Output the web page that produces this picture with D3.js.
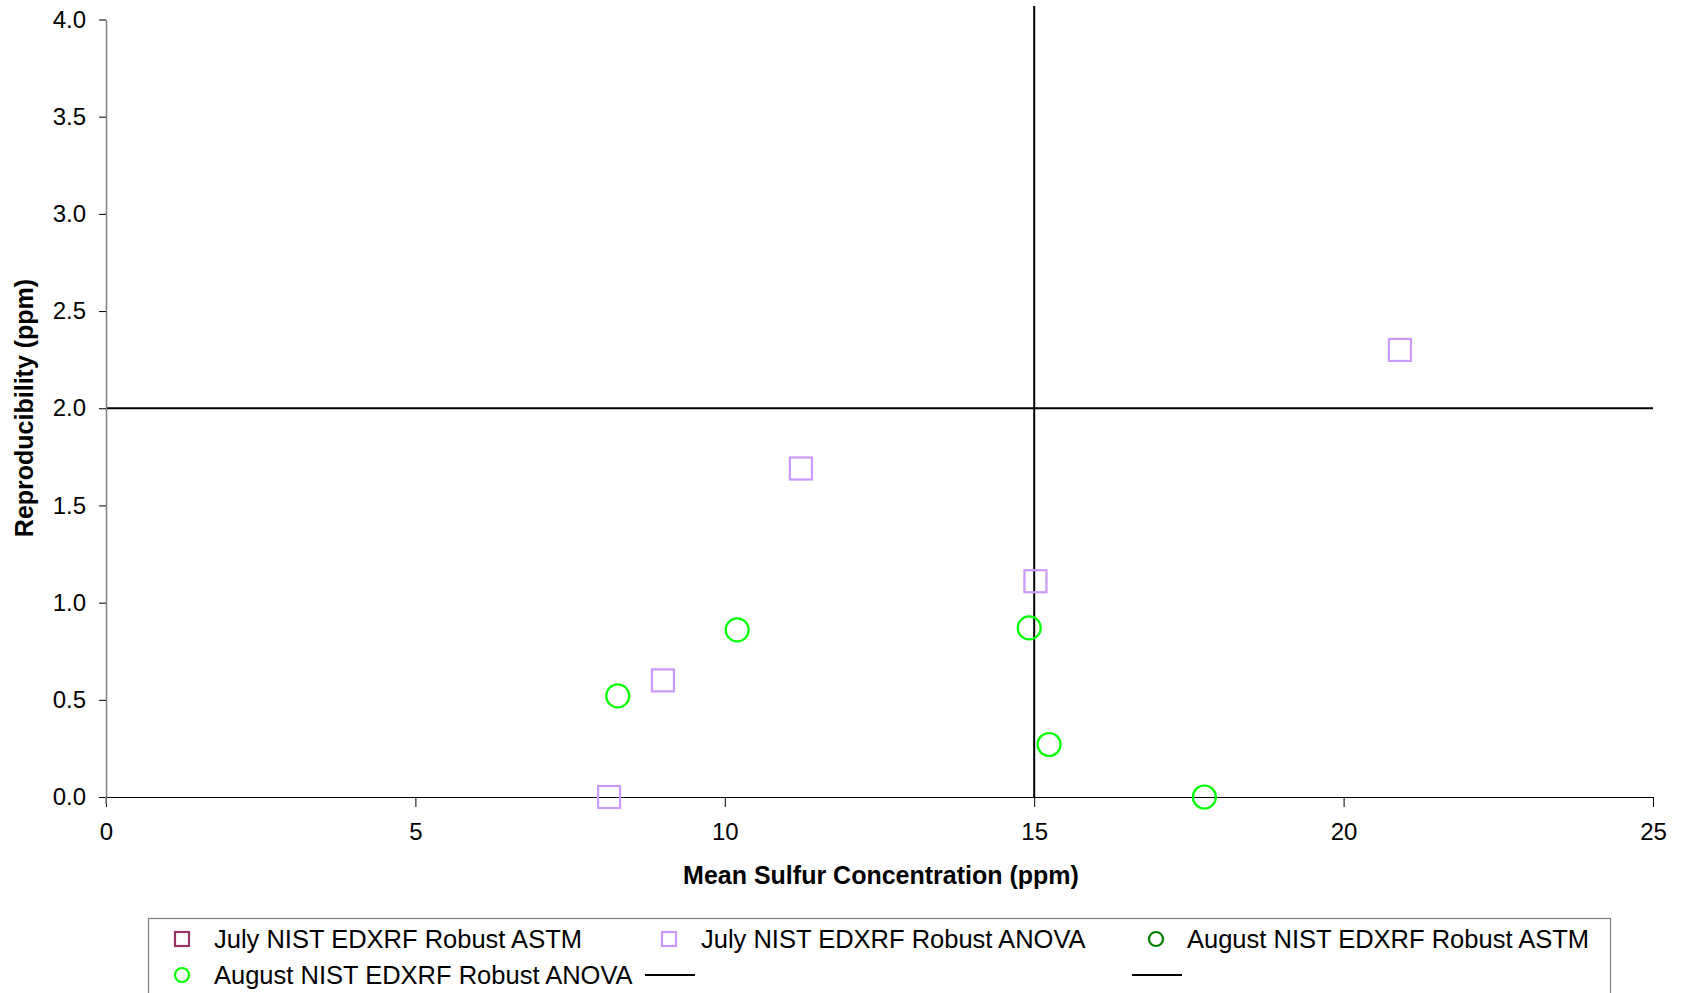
<!DOCTYPE html>
<html>
<head>
<meta charset="utf-8">
<script src="https://cdn.jsdelivr.net/npm/d3@7"></script>
<style>
  html, body { margin: 0; padding: 0; background: #fff; }
  svg { display: block; font-family: "Liberation Sans", Arial, sans-serif; }
</style>
</head>
<body>
<svg id="chart" width="1682" height="993"></svg>
<script>
// ---- data ----
const xTicks = [0, 5, 10, 15, 20, 25];
const yTicks = [0.0, 0.5, 1.0, 1.5, 2.0, 2.5, 3.0, 3.5, 4.0];

const julyAstmX = [];
const julyAstmY = [];
const julyAnovaX = [8.13, 9.0, 11.23, 15.02, 20.91];
const julyAnovaY = [0.0, 0.6, 1.69, 1.11, 2.30];
const augAstmX = [];
const augAstmY = [];
const augAnovaX = [8.27, 10.2, 14.92, 15.24, 17.75];
const augAnovaY = [0.52, 0.86, 0.87, 0.27, 0.0];

const hLineX = [0, 25];
const hLineY = [2, 2];
const vLineX = [15, 15];
const vLineY = [0, 4.07];

const legendLabels = [
  "July NIST EDXRF Robust ASTM",
  "July NIST EDXRF Robust ANOVA",
  "August NIST EDXRF Robust ASTM",
  "August NIST EDXRF Robust ANOVA",
  "",
  ""
];

// ---- chart ----
const svg = d3.select("#chart");
const x = d3.scaleLinear().domain([0, 25]).range([106, 1653]);
const y = d3.scaleLinear().domain([0, 4]).range([797, 19.5]);
const FONT = 24;

// reference lines
const line = d3.line().x(d => x(d[0])).y(d => y(d[1]));
svg.append("path")
  .datum(d3.zip(hLineX, hLineY))
  .attr("d", line).attr("fill", "none").attr("stroke", "#000").attr("stroke-width", 2);
svg.append("path")
  .datum(d3.zip(vLineX, vLineY))
  .attr("d", line).attr("fill", "none").attr("stroke", "#000").attr("stroke-width", 2);

// x axis
const gx = svg.append("g").attr("transform", `translate(0,${y(0)})`)
  .call(d3.axisBottom(x).tickValues(xTicks).tickFormat(d3.format("d")).tickSize(10).tickPadding(16).tickSizeOuter(0));
gx.select(".domain").attr("stroke", "#000").attr("stroke-width", 1.2);
gx.selectAll(".tick line").attr("stroke", "#000");
gx.selectAll("text").attr("font-size", FONT).attr("font-family", "Liberation Sans, Arial, sans-serif").attr("fill", "#000");

// y axis
const gy = svg.append("g").attr("transform", `translate(${x(0)},0)`)
  .call(d3.axisLeft(y).tickValues(yTicks).tickFormat(d3.format(".1f")).tickSize(7).tickPadding(13).tickSizeOuter(0));
gy.select(".domain").attr("stroke", "#808080").attr("stroke-width", 1.5);
gy.selectAll(".tick line").attr("stroke", "#000");
gy.selectAll("text").attr("font-size", FONT).attr("font-family", "Liberation Sans, Arial, sans-serif").attr("fill", "#000");
svg.append("line").attr("x1", x(0)).attr("x2", x(0)).attr("y1", y(0)).attr("y2", y(0) + 7)
  .attr("stroke", "#808080").attr("stroke-width", 1.5);

// axis titles
svg.append("text").attr("x", 881).attr("y", 884).attr("text-anchor", "middle")
  .attr("font-size", 25).attr("font-weight", "bold").text("Mean Sulfur Concentration (ppm)");
svg.append("text").attr("transform", `translate(33,408) rotate(-90)`).attr("text-anchor", "middle")
  .attr("font-size", 25).attr("font-weight", "bold").text("Reproducibility (ppm)");

// markers
const SQ = 22, R = 11.5;
svg.append("g").selectAll("rect").data(d3.zip(julyAnovaX, julyAnovaY)).join("rect")
  .attr("x", d => x(d[0]) - SQ / 2).attr("y", d => y(d[1]) - SQ / 2)
  .attr("width", SQ).attr("height", SQ)
  .attr("fill", "none").attr("stroke", "#cc99ff").attr("stroke-width", 2.2);
svg.append("g").selectAll("circle").data(d3.zip(augAnovaX, augAnovaY)).join("circle")
  .attr("cx", d => x(d[0])).attr("cy", d => y(d[1])).attr("r", R)
  .attr("fill", "none").attr("stroke", "#00ff00").attr("stroke-width", 2.2);

// legend
svg.append("rect").attr("x", 148.5).attr("y", 918.5).attr("width", 1462).attr("height", 100)
  .attr("fill", "#fff").attr("stroke", "#808080").attr("stroke-width", 1.2);

const legItems = [
  {type: "square", color: "#993366", mx: 182, tx: 214, cy: 939},
  {type: "square", color: "#cc99ff", mx: 669, tx: 701, cy: 939},
  {type: "circle", color: "#008000", mx: 1156, tx: 1187, cy: 939},
  {type: "circle", color: "#00ff00", mx: 182, tx: 214, cy: 975},
  {type: "line",   color: "#000",    mx: 670, tx: 0, cy: 975},
  {type: "line",   color: "#000",    mx: 1157, tx: 0, cy: 975}
];
const leg = svg.append("g");
legItems.forEach((it, i) => {
  if (it.type === "square") {
    leg.append("rect").attr("x", it.mx - 7).attr("y", it.cy - 7).attr("width", 14).attr("height", 14)
      .attr("fill", "none").attr("stroke", it.color).attr("stroke-width", 2.2);
  } else if (it.type === "circle") {
    leg.append("circle").attr("cx", it.mx).attr("cy", it.cy).attr("r", 7)
      .attr("fill", "none").attr("stroke", it.color).attr("stroke-width", 2.2);
  } else {
    leg.append("line").attr("x1", it.mx - 25).attr("x2", it.mx + 25).attr("y1", it.cy).attr("y2", it.cy)
      .attr("stroke", it.color).attr("stroke-width", 2);
  }
  if (legendLabels[i]) {
    leg.append("text").attr("x", it.tx).attr("y", it.cy).attr("dy", "0.35em")
      .attr("font-size", 25.5).attr("fill", "#000").text(legendLabels[i]);
  }
});
</script>
</body>
</html>
